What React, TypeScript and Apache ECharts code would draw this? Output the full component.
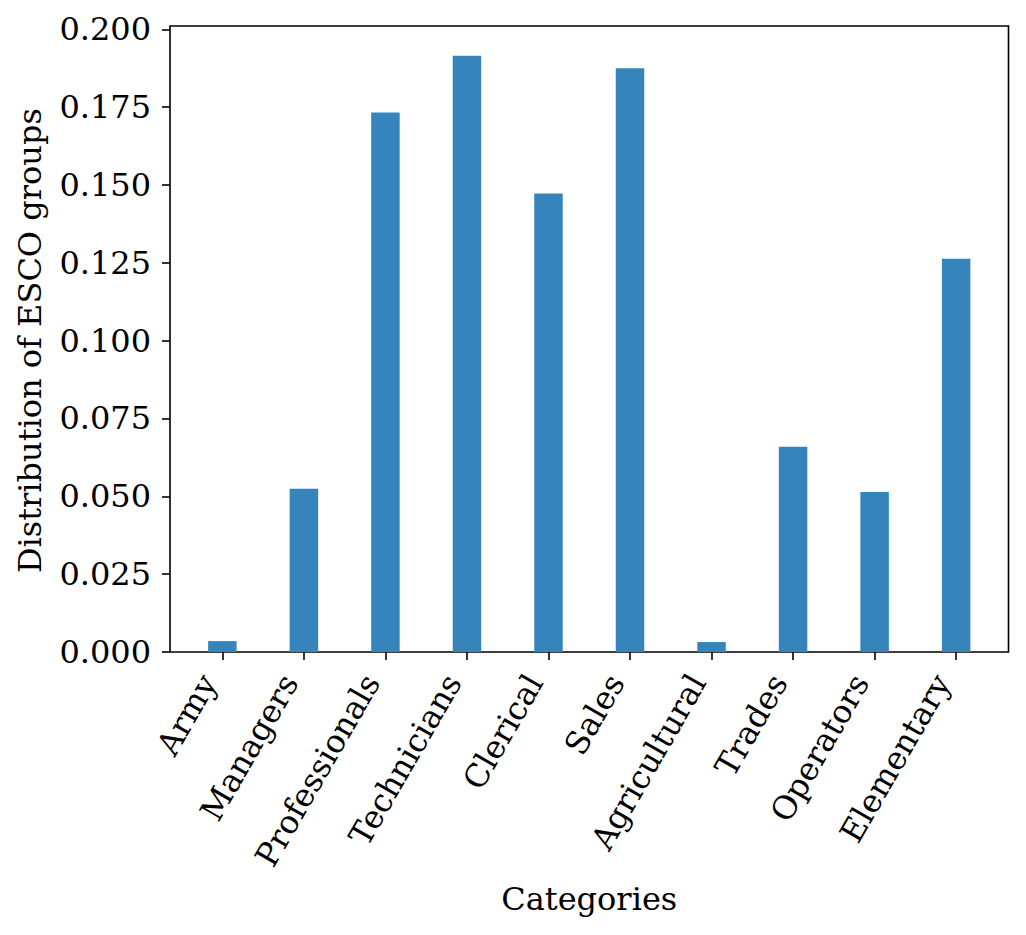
import React, { useEffect, useRef } from "react";
import * as echarts from "echarts";

const categories = [
  "Army",
  "Managers",
  "Professionals",
  "Technicians",
  "Clerical",
  "Sales",
  "Agricultural",
  "Trades",
  "Operators",
  "Elementary",
];
const values = [0.0035, 0.0524, 0.1733, 0.1915, 0.1473, 0.1875, 0.0032, 0.0659, 0.0514, 0.1263];
const yTicks = { min: 0, max: 0.2, interval: 0.025 };

const FONT = "DejaVu Serif";
const FS = 32;

export default function App() {
  const ref = useRef<HTMLDivElement>(null);
  useEffect(() => {
    if (!ref.current) return;
    const chart = echarts.init(ref.current, null, { renderer: "svg" });
    const frame = { left: 170, right: 17.5, top: 26, bottom: 283 };
    const plotTop = 29.3;
    const option: any = {
      animation: false,
      backgroundColor: "#ffffff",
      grid: [
        { ...frame, show: true, borderColor: "#000", borderWidth: 1.6, backgroundColor: "transparent" },
        { left: 170, right: 17.5, top: plotTop, bottom: 283 },
        { left: 181.6, right: 29.1, top: plotTop, bottom: 283 },
      ],
      xAxis: [
        { gridIndex: 0, type: "value", show: false, min: 0, max: 1 },
        { gridIndex: 1, type: "value", show: false, min: 0, max: 1 },
        {
          gridIndex: 2,
          type: "category",
          data: categories,
          boundaryGap: true,
          axisLine: { show: false },
          axisTick: { show: true, alignWithLabel: true, length: 8, inside: false, lineStyle: { color: "#000", width: 1.6 } },
          axisLabel: {
            rotate: 60,
            interval: 0,
            margin: 33,
            verticalAlign: "bottom",
            fontFamily: FONT,
            fontSize: FS,
            color: "#000",
          },
          splitLine: { show: false },
          name: "Categories",
          nameLocation: "middle",
          nameGap: 231,
          nameTextStyle: { fontFamily: FONT, fontSize: FS, color: "#000" },
        },
      ],
      yAxis: [
        { gridIndex: 0, type: "value", show: false, min: 0, max: 1 },
        {
          gridIndex: 1,
          type: "value",
          min: yTicks.min,
          max: yTicks.max,
          interval: yTicks.interval,
          axisLine: { show: false },
          axisTick: { show: true, length: 8, lineStyle: { color: "#000", width: 1.6 } },
          axisLabel: {
            margin: 19,
            fontFamily: FONT,
            fontSize: FS,
            color: "#000",
            formatter: (v: number) => v.toFixed(3),
          },
          splitLine: { show: false },
          name: "Distribution of ESCO groups",
          nameLocation: "middle",
          nameRotate: 90,
          nameGap: 124,
          nameTextStyle: { fontFamily: FONT, fontSize: FS, color: "#000" },
        },
        {
          gridIndex: 2,
          type: "value",
          show: false,
          min: yTicks.min,
          max: yTicks.max,
        },
      ],
      series: [
        {
          type: "bar",
          xAxisIndex: 2,
          yAxisIndex: 2,
          data: values,
          barWidth: 28.5,
          itemStyle: { color: "#3585bc" },
        },
      ],
    };
    chart.setOption(option);
    return () => chart.dispose();
  }, []);
  return <div ref={ref} style={{ width: 1026, height: 935, position: "absolute", left: 0, top: 0 }} />;
}
